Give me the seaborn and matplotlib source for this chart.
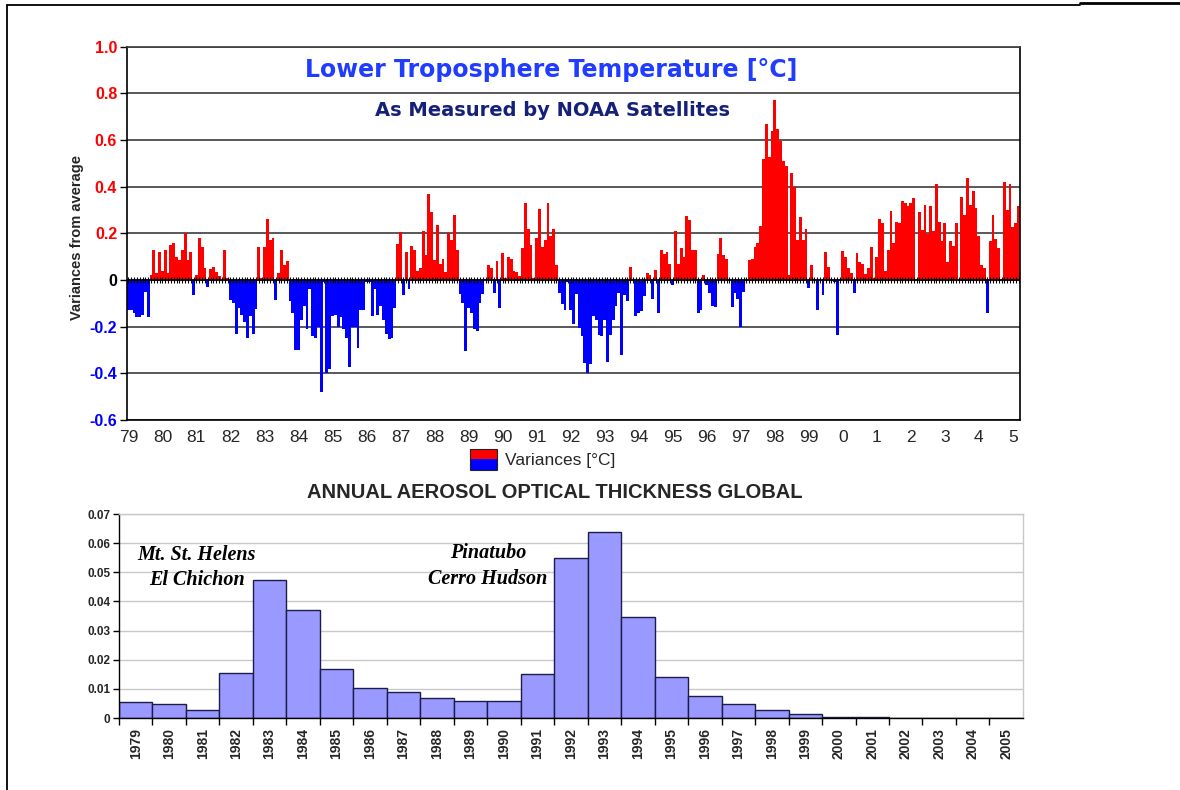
import matplotlib
matplotlib.use("Agg")
import matplotlib.pyplot as plt
from matplotlib.patches import Rectangle
from matplotlib.lines import Line2D
import numpy as np
import pandas as pd
import seaborn as sns

# monthly lower troposphere anomalies [deg C], Jan 1979 .. Mar 2005
anomaly = [
    -0.13, -0.13, -0.14, -0.16, -0.16, -0.15, -0.05, -0.16, 0.02, 0.13, 0.03, 0.12,        # 1979
    0.04, 0.13, 0.03, 0.15, 0.16, 0.10, 0.085, 0.13, 0.20, 0.085, 0.12, -0.065,           # 1980
    0.02, 0.18, 0.14, 0.05, -0.03, 0.045, 0.055, 0.035, 0.015, 0.0, 0.13, 0.01,           # 1981
    -0.085, -0.10, -0.23, -0.12, -0.15, -0.18, -0.25, -0.155, -0.23, -0.125, 0.14, 0.01,  # 1982
    0.14, 0.26, 0.17, 0.18, -0.085, 0.03, 0.13, 0.065, 0.08, -0.09, -0.14, -0.30,         # 1983
    -0.30, -0.17, -0.11, -0.21, -0.04, -0.24, -0.25, -0.2, -0.48, -0.01, -0.40, -0.38,    # 1984
    -0.155, -0.15, -0.2, -0.16, -0.21, -0.25, -0.375, -0.2, -0.2, -0.29, -0.13, -0.13,    # 1985
    -0.01, -0.01, -0.155, -0.04, -0.15, -0.11, -0.17, -0.23, -0.255, -0.25, -0.12, 0.155, # 1986
    0.205, -0.065, 0.12, -0.04, 0.145, 0.13, 0.04, 0.05, 0.21, 0.105, 0.37, 0.29,         # 1987
    0.085, 0.235, 0.07, 0.09, 0.035, 0.20, 0.17, 0.28, 0.13, -0.06, -0.10, -0.305,        # 1988
    -0.12, -0.14, -0.21, -0.22, -0.10, -0.06, 0.0, 0.065, 0.05, -0.057, 0.08, -0.12,      # 1989
    0.115, 0.01, 0.097, 0.09, 0.04, 0.035, 0.015, 0.135, 0.33, 0.22, 0.15, 0.01,          # 1990
    0.18, 0.305, 0.14, 0.17, 0.33, 0.19, 0.22, 0.065, -0.057, -0.105, -0.13, -0.01,       # 1991
    -0.13, -0.19, -0.06, -0.205, -0.24, -0.355, -0.40, -0.36, -0.155, -0.17, -0.235, -0.24,  # 1992
    -0.17, -0.35, -0.235, -0.17, -0.11, -0.057, -0.32, -0.065, -0.09, 0.055, 0.0, -0.155,    # 1993
    -0.14, -0.135, -0.07, 0.028, 0.02, -0.08, 0.043, -0.14, 0.13, 0.11, 0.12, 0.07,       # 1994
    -0.02, 0.21, 0.07, 0.135, 0.10, 0.275, 0.255, 0.13, 0.13, -0.14, -0.13, 0.02,         # 1995
    -0.02, -0.057, -0.11, -0.115, 0.11, 0.18, 0.105, 0.09, 0.0, -0.115, -0.057, -0.08,    # 1996
    -0.2, -0.05, 0.0, 0.085, 0.09, 0.14, 0.16, 0.23, 0.52, 0.67, 0.525, 0.64,             # 1997
    0.77, 0.645, 0.595, 0.51, 0.49, 0.02, 0.46, 0.40, 0.17, 0.27, 0.17, 0.22,             # 1998
    -0.035, 0.065, 0.0, -0.13, 0.0, -0.064, 0.12, 0.057, 0.0, -0.01, -0.235, 0.0,         # 1999
    0.125, 0.10, 0.05, 0.03, -0.055, 0.115, 0.075, 0.07, 0.025, 0.05, 0.14, 0.01,         # 2000
    0.10, 0.26, 0.245, 0.04, 0.13, 0.295, 0.16, 0.25, 0.245, 0.34, 0.33, 0.315,           # 2001
    0.33, 0.35, 0.0, 0.29, 0.215, 0.32, 0.195, 0.315, 0.21, 0.41, 0.25, 0.165,            # 2002
    0.245, 0.075, 0.165, 0.145, 0.245, 0.0, 0.355, 0.28, 0.435, 0.32, 0.38, 0.31,         # 2003
    0.19, 0.065, 0.05, -0.14, 0.165, 0.28, 0.175, 0.135, 0.0, 0.42, 0.30, 0.41,           # 2004
    0.225, 0.245, 0.315,                                                                  # 2005
]
year_labels = ["79", "80", "81", "82", "83", "84", "85", "86", "87", "88", "89",
               "90", "91", "92", "93", "94", "95", "96", "97", "98", "99",
               "0", "1", "2", "3", "4", "5"]

# annual aerosol optical thickness
aot_years = list(range(1979, 2006))
aot = [0.0055, 0.0047, 0.0029, 0.0153, 0.0474, 0.0372, 0.0168, 0.0103, 0.0089,
       0.0070, 0.0058, 0.0058, 0.0150, 0.0549, 0.0639, 0.0346, 0.0142, 0.0074,
       0.0048, 0.0029, 0.0014, 0.0005, 0.0005, 0.0, 0.0, 0.0, 0.0]

RED = "#ff0000"
BLUE = "#0000ff"

sns.set_style("white")
plt.rcParams["font.family"] = ["Liberation Sans", "DejaVu Sans"]

fig = plt.figure(figsize=(11.8, 7.9), dpi=100)

# ---- top: temperature anomalies ----
ax1 = fig.add_axes([0.1076, 0.4684, 0.7568, 0.4727])
df = pd.DataFrame({"month": np.arange(len(anomaly)), "value": anomaly})
df["sign"] = np.where(df["value"] >= 0, "pos", "neg")
sns.barplot(data=df, x="month", y="value", hue="sign",
            palette={"pos": RED, "neg": BLUE}, dodge=False, width=1.0,
            saturation=1, linewidth=0, legend=False, ax=ax1)
ax1.set_xlim(-0.5, len(anomaly) - 0.5)
ax1.set_ylim(-0.6, 1.0)
ax1.set_axisbelow(True)
ax1.grid(axis="y", color="#3c3c3c", lw=1.2)
ax1.grid(axis="x", visible=False)

ax1.axhline(0, color="black", lw=1.1, zorder=3)
ax1.plot(df["month"], np.zeros(len(df)), ls="none", marker="|", ms=4,
         mew=0.8, color="black", zorder=3)

yt = np.round(np.arange(-0.6, 1.01, 0.2), 1)
ylabs = ["0" if v == 0 else f"{v:.1f}" for v in yt]
ax1.set_yticks(yt)
ax1.set_yticklabels(ylabs, fontsize=11.5, fontweight="bold")
for lab, v in zip(ax1.get_yticklabels(), yt):
    lab.set_color(RED if v > 0 else (BLUE if v < 0 else "black"))
ax1.tick_params(axis="y", direction="out", length=5, width=1, pad=2,
                left=True, color="black")
ax1.set_xticks(np.arange(0, len(anomaly), 12))
ax1.set_xticklabels(year_labels, fontsize=12.5)
ax1.tick_params(axis="x", length=0, pad=7)
ax1.set_xlabel("")
ax1.set_ylabel("")

for s in ["left", "right", "bottom"]:
    ax1.spines[s].set_color("black")
    ax1.spines[s].set_linewidth(1.2)
ax1.spines["top"].set_color("#3c3c3c")
ax1.spines["top"].set_linewidth(1.2)

ax1.text(0.475, 0.937, "Lower Troposphere Temperature [\u00b0C]",
         transform=ax1.transAxes, ha="center", va="center",
         color="#1f3cff", fontsize=17, fontweight="bold",
         family=["DejaVu Sans"])
ax1.text(0.476, 0.830, "As Measured by NOAA Satellites",
         transform=ax1.transAxes, ha="center", va="center",
         color="#15207a", fontsize=14, fontweight="bold",
         family=["DejaVu Sans"])

fig.text(77 / 1180, 1 - 237 / 790, "Variances from average", rotation=90,
         ha="center", va="center", fontsize=10.5, fontweight="bold")

# legend box: red over blue
lx, ly, lw_, lh = 470 / 1180, 1 - 470 / 790, 27 / 1180, 10.5 / 790
fig.add_artist(Rectangle((lx, ly), lw_, lh, transform=fig.transFigure,
                         facecolor=BLUE, edgecolor="none"))
fig.add_artist(Rectangle((lx, ly + lh), lw_, lh, transform=fig.transFigure,
                         facecolor=RED, edgecolor="none"))
fig.add_artist(Rectangle((lx, ly), lw_, 2 * lh, transform=fig.transFigure,
                         facecolor="none", edgecolor="#222222", lw=0.8))
fig.text(505 / 1180, 1 - 461 / 790, "Variances [\u00b0C]", ha="left",
         va="center", fontsize=12.5)

# ---- bottom: aerosol optical thickness ----
ax2 = fig.add_axes([0.1008, 0.0911, 0.7661, 0.2582])
aot_df = pd.DataFrame({"year": [str(y) for y in aot_years], "aot": aot})
sns.barplot(data=aot_df, x="year", y="aot", color="#9999ff", saturation=1,
            width=1.0, edgecolor="#1c1c48", linewidth=1.0, ax=ax2)
ax2.set_xlim(-0.5, len(aot_years) - 0.5)
ax2.set_ylim(0, 0.07)
ax2.set_axisbelow(True)
ax2.grid(axis="y", color="#c8c8c8", lw=1.0)
ax2.grid(axis="x", visible=False)

ayt = np.round(np.arange(0, 0.0701, 0.01), 2)
ax2.set_yticks(ayt)
ax2.set_yticklabels(["0" if v == 0 else f"{v:.2f}" for v in ayt],
                    fontsize=8.5, fontweight="bold")
ax2.tick_params(axis="y", direction="out", length=4, width=1, pad=2,
                left=True, color="black")
centers = np.arange(len(aot_years))
ax2.set_xticks(centers - 0.5)
ax2.set_xticklabels([])
ax2.set_xticks(centers, [str(y) for y in aot_years], minor=True)
ax2.tick_params(axis="x", which="major", direction="out", length=5,
                width=1, bottom=True, color="black")
ax2.tick_params(axis="x", which="minor", length=0, pad=7, labelsize=10,
                labelrotation=90)
for lab in ax2.get_xticklabels(minor=True):
    lab.set_fontweight("bold")
ax2.set_xlabel("")
ax2.set_ylabel("")
for s in ["left", "bottom"]:
    ax2.spines[s].set_color("black")
    ax2.spines[s].set_linewidth(1.0)
for s in ["top", "right"]:
    ax2.spines[s].set_color("#c8c8c8")
    ax2.spines[s].set_linewidth(1.0)

note = dict(ha="center", va="center", fontsize=14.5, fontweight="bold",
            style="italic", color="black",
            family=["Liberation Serif", "DejaVu Serif"])
ax2.text(1.83, 0.0560, "Mt. St. Helens", **note)
ax2.text(1.83, 0.0474, "El Chichon", **note)
ax2.text(10.52, 0.0567, "Pinatubo", **note)
ax2.text(10.52, 0.0478, "Cerro Hudson", **note)

fig.text(555 / 1180, 1 - 493 / 790, "ANNUAL AEROSOL OPTICAL THICKNESS GLOBAL",
         ha="center", va="center", fontsize=14.5, fontweight="bold")

# outer page frame
fig.add_artist(Line2D([7 / 1180, 1080 / 1180], [1 - 5 / 790] * 2,
                      transform=fig.transFigure, color="black", lw=1.3))
fig.add_artist(Line2D([1080 / 1180, 1.0], [1 - 3 / 790] * 2,
                      transform=fig.transFigure, color="black", lw=2))
fig.add_artist(Line2D([7 / 1180] * 2, [0, 1 - 5 / 790],
                      transform=fig.transFigure, color="black", lw=1.3))

fig.savefig("out.png", dpi=100)
plt.close(fig)
